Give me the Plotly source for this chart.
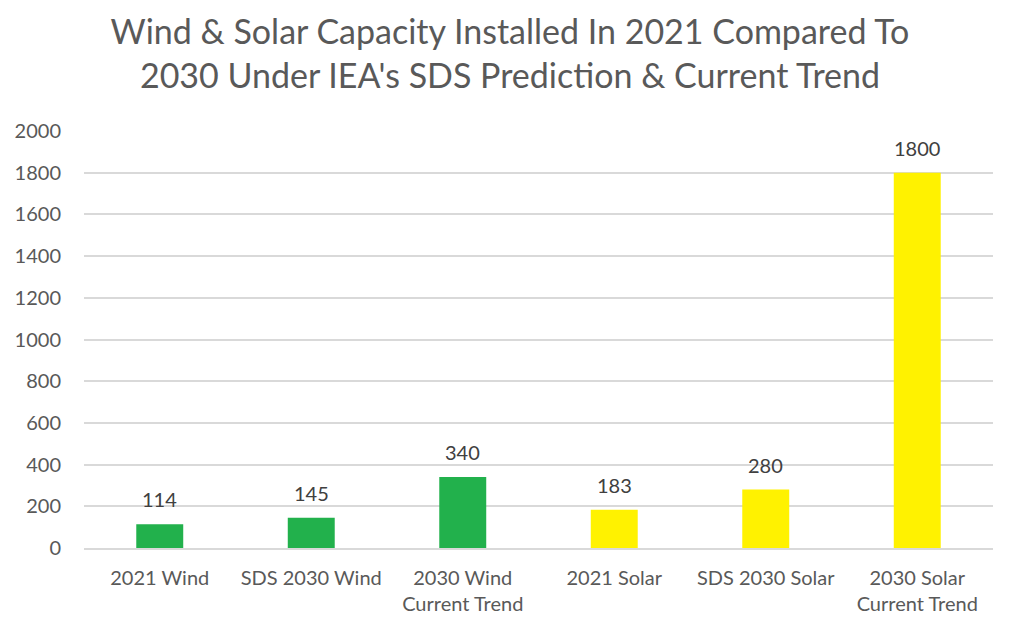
import plotly.graph_objects as go

categories = ["2021 Wind", "SDS 2030 Wind", "2030 Wind Current Trend",
              "2021 Solar", "SDS 2030 Solar", "2030 Solar Current Trend"]
tick_labels = ["2021 Wind", "SDS 2030 Wind", "2030 Wind<br>Current Trend",
               "2021 Solar", "SDS 2030 Solar", "2030 Solar<br>Current Trend"]
values = [114, 145, 340, 183, 280, 1800]
colors = ["#22B14C", "#22B14C", "#22B14C", "#FFF200", "#FFF200", "#FFF200"]
y_ticks = list(range(0, 2001, 200))

FONT = "Lato"

fig = go.Figure()
fig.add_trace(go.Bar(x=categories, y=values, marker=dict(color=colors, line=dict(width=0)),
                     width=0.31, hoverinfo="x+y"))

for c, v in zip(categories, values):
    fig.add_annotation(x=c, y=v, text=str(v), showarrow=False, yanchor="bottom",
                       yshift=11, font=dict(family=FONT, size=20, color="#404040"))

fig.update_layout(
    width=1004, height=625,
    margin=dict(l=76, r=19, t=123, b=85, autoexpand=False),
    paper_bgcolor="white", plot_bgcolor="white",
    title=dict(text="Wind & Solar Capacity Installed In 2021 Compared To<br>2030 Under IEA's SDS Prediction & Current Trend",
               x=0.5, xanchor="center", y=0.943, yanchor="middle",
               font=dict(family=FONT, size=34, color="#595959")),
    showlegend=False,
    xaxis=dict(tickmode="array", tickvals=categories, ticktext=tick_labels,
               tickfont=dict(family=FONT, size=20, color="#595959"),
               showgrid=False, showline=True, linecolor="#D9D9D9", linewidth=1.5,
               ticks="", ticklabelstandoff=11),
    yaxis=dict(range=[0, 2000], tickvals=y_ticks, showgrid=True, gridcolor="#D9D9D9",
               gridwidth=1.5, zeroline=False,
               tickfont=dict(family=FONT, size=20, color="#595959"),
               ticks="", ticklabelstandoff=22),
)

fig.write_html("out.html")
